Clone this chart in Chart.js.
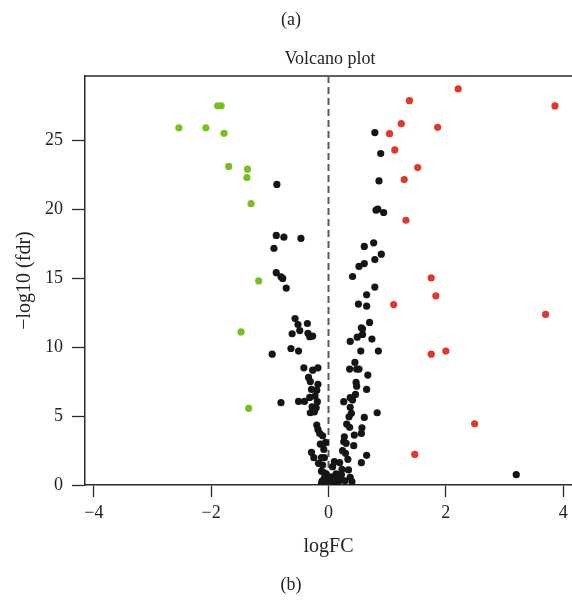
<!DOCTYPE html>
<html>
<head>
<meta charset="utf-8">
<script src="https://cdn.jsdelivr.net/npm/chart.js@4/dist/chart.umd.min.js"></script>
<style>
  html, body { margin: 0; padding: 0; background: #fff; overflow: hidden; width: 572px; height: 603px; }
  #wrap { position: absolute; left: 0; top: 0; width: 576px; height: 603px; }
  .lbl { position: absolute; font-family: "Liberation Serif", "DejaVu Serif", serif; color: #222; font-size: 18px; white-space: nowrap; transform: translate(-50%, -50%); }
</style>
</head>
<body>
<div id="wrap"><canvas id="c" width="576" height="603"></canvas></div>
<div class="lbl" style="left:291px; top:19px;">(a)</div>
<div class="lbl" style="left:330px; top:58px;">Volcano plot</div>
<div class="lbl" style="left:291px; top:584px;">(b)</div>
<script>
// ---- data (logFC, -log10 fdr) ----
const downX = [-1.89, -1.83, -2.55, -2.09, -1.78, -1.70, -1.38, -1.39, -1.32, -1.19, -1.49, -1.36];
const downY = [27.5, 27.5, 25.9, 25.9, 25.5, 23.1, 22.9, 22.3, 20.4, 14.8, 11.1, 5.56];

const upX = [2.21, 1.38, 3.86, 1.24, 1.86, 1.04, 1.13, 1.52, 1.29, 1.32, 1.75, 1.83, 1.11, 3.70, 2.00, 1.75, 2.49, 1.47];
const upY = [28.72, 27.87, 27.49, 26.2, 25.94, 25.48, 24.3, 23.02, 22.15, 19.2, 15.02, 13.72, 13.09, 12.37, 9.71, 9.49, 4.44, 2.22];

const nsX = [
  -0.88, -0.89, -0.76, -0.47, -0.93, -0.89, -0.81, -0.78, -0.72, -0.57, -0.52, -0.36, -0.62, -0.49, -0.35, -0.32, -0.27,
  -0.64, -0.51, -0.96, -0.42, -0.27, -0.18, -0.34, -0.31, -0.18, -0.29, -0.20, -0.32, -0.23, -0.81, -0.51, -0.41, -0.19,
  -0.28, -0.21, -0.31, -0.24, -0.20, -0.18, -0.15, -0.10, -0.14, -0.05, -0.08, -0.29, -0.25, -0.12, -0.07, -0.17, -0.10,
  -0.07, -0.11, -0.04, -0.03, -0.12, -0.04, -0.12, -0.08,
  0.79, 0.89, 0.86, 0.81, 0.84, 0.94, 0.77, 0.61, 0.90, 0.79, 0.61, 0.52, 0.41, 0.79, 0.65, 0.51, 0.65, 0.70, 0.56, 0.58,
  0.58, 0.49, 0.74, 0.37, 0.55, 0.85, 0.45, 0.36, 0.48, 0.52, 0.67, 0.47, 0.48, 0.65, 0.46, 0.37, 0.41, 0.26, 0.37, 0.39,
  0.61, 0.83, 0.35, 0.31, 0.36, 0.57, 0.44, 0.56, 0.27, 0.26, 0.30, 0.43, 0.24, 0.29, 0.65, 0.33, 0.56, 0.10, 0.19, 0.07,
  0.23, 0.34, 0.13, 0.22, 0.37, 0.40, 0.02, 0.07, 0.16, 0.20, 0.05, 0.12, 0.28, 3.20
];
const nsY = [
  21.8, 18.1, 17.97, 17.88, 17.17, 15.4, 15.1, 14.98, 14.28, 12.07, 11.64, 11.71, 10.97, 11.2, 11.0, 10.75, 10.8,
  9.9, 9.71, 9.49, 8.5, 8.33, 8.5, 7.8, 7.5, 7.3, 6.93, 6.88, 6.35, 6.45, 5.97, 6.06, 6.06, 6.04,
  5.67, 5.6, 5.24, 5.31, 4.35, 4.03, 3.74, 3.57, 2.97, 3.09, 2.58, 2.37, 1.98, 1.98, 1.98, 1.57, 1.45,
  0.49, 0.29, 0.6, 0.2, 0.1, 0.8, 1.0, 0.9,
  25.56, 24.04, 22.05, 19.93, 20.0, 19.76, 17.56, 17.3, 16.74, 16.35, 16.06, 15.85, 15.12, 14.35, 13.79, 13.12, 12.97, 11.79, 11.4, 11.33,
  10.92, 10.72, 10.58, 10.41, 9.71, 9.71, 8.89, 8.41, 8.41, 8.41, 7.97, 7.44, 7.17, 6.93, 6.57, 6.33, 6.16, 6.04, 5.63, 5.2,
  4.9, 5.24, 4.95, 4.42, 4.18, 4.15, 3.62, 3.74, 3.5, 3.14, 3.02, 2.85, 2.49, 2.3, 2.15, 1.86, 1.62, 1.69, 1.62, 1.33,
  1.14, 1.09, 0.8, 0.75, 0.56, 0.24, 0.36, 0.24, 0.17, 0.36, 0.6, 0.45, 0.3, 0.75
];

const xTickValues = [-4, -2, 0, 2, 4];
const yTickValues = [0, 5, 10, 15, 20, 25];
const xLimits = [-4.15, 4.15];
const yLimits = [0, 29.66];

const toPts = (xs, ys) => xs.map((x, i) => ({ x: x, y: ys[i] }));

const FONT = "'Liberation Serif', 'DejaVu Serif', serif";
const AX = '#2a2a2a';

const framePlugin = {
  id: 'frame',
  beforeDatasetsDraw(chart) {
    const { ctx, chartArea: a, scales } = chart;
    ctx.save();
    // top border (right border lies outside the visible window)
    ctx.strokeStyle = AX;
    ctx.lineWidth = 1.5;
    ctx.beginPath();
    ctx.moveTo(a.left, a.top);
    ctx.lineTo(a.right + 10, a.top);
    ctx.stroke();
    // dashed zero line
    const x0 = scales.x.getPixelForValue(0);
    ctx.strokeStyle = '#5a5a5a';
    ctx.lineWidth = 2;
    ctx.setLineDash([7, 4]);
    ctx.beginPath();
    ctx.moveTo(x0, a.top);
    ctx.lineTo(x0, a.bottom);
    ctx.stroke();
    ctx.restore();
  }
};

new Chart(document.getElementById('c'), {
  type: 'scatter',
  data: {
    datasets: [
      { label: 'NS', data: toPts(nsX, nsY), backgroundColor: '#151515', borderColor: '#151515', borderWidth: 0, pointRadius: 3.6 },
      { label: 'Down', data: toPts(downX, downY), backgroundColor: '#78c01f', borderColor: '#78c01f', borderWidth: 0, pointRadius: 3.6 },
      { label: 'Up', data: toPts(upX, upY), backgroundColor: '#e0392c', borderColor: '#e0392c', borderWidth: 0, pointRadius: 3.6 }
    ]
  },
  options: {
    responsive: false,
    animation: false,
    events: [],
    layout: { padding: { left: 0, right: 3, top: 76, bottom: 0 } },
    plugins: { legend: { display: false }, tooltip: { enabled: false }, title: { display: false } },
    scales: {
      x: {
        type: 'linear',
        min: xLimits[0], max: xLimits[1],
        afterBuildTicks: (s) => { s.ticks = xTickValues.map(v => ({ value: v })); },
        afterFit: (s) => { s.height = 118; },
        grid: { display: true, drawOnChartArea: false, drawTicks: true, tickLength: 12, tickColor: AX, tickWidth: 1.3 },
        border: { display: true, color: AX, width: 1.5 },
        ticks: {
          color: '#222', padding: 5, maxRotation: 0, autoSkip: false,
          font: { family: FONT, size: 18 },
          callback: (v) => (v < 0 ? '\u2212' + Math.abs(v) : String(v))
        },
        title: { display: true, text: 'logFC', color: '#222', font: { family: FONT, size: 20 }, padding: { top: 0, bottom: 44 } }
      },
      y: {
        type: 'linear',
        min: yLimits[0], max: yLimits[1],
        afterBuildTicks: (s) => { s.ticks = yTickValues.map(v => ({ value: v })); },
        afterFit: (s) => { s.width = 85; },
        grid: { display: true, drawOnChartArea: false, drawTicks: true, tickLength: 13, tickColor: AX, tickWidth: 1.3 },
        border: { display: true, color: AX, width: 1.5 },
        ticks: { color: '#222', padding: 9, autoSkip: false, font: { family: FONT, size: 18 } },
        title: { display: true, text: '\u2212log10 (fdr)', color: '#222', font: { family: FONT, size: 20 }, padding: { top: 13, bottom: 0 } }
      }
    }
  },
  plugins: [framePlugin]
});
</script>
</body>
</html>
